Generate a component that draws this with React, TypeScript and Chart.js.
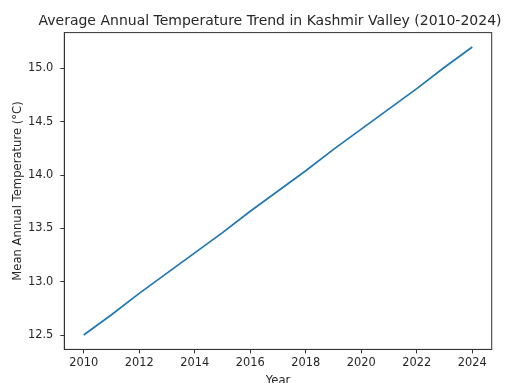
import React, { useEffect, useRef } from "react";
import { Chart, registerables } from "chart.js";

Chart.register(...registerables);

// Average annual temperature, Kashmir Valley
const years = [2010, 2011, 2012, 2013, 2014, 2015, 2016, 2017, 2018, 2019, 2020, 2021, 2022, 2023, 2024];
const meanTemps = [12.5, 12.69, 12.89, 13.08, 13.27, 13.46, 13.66, 13.85, 14.04, 14.24, 14.43, 14.62, 14.81, 15.01, 15.2];

const xTickValues = [2010, 2012, 2014, 2016, 2018, 2020, 2022, 2024];
const yTickValues = [12.5, 13.0, 13.5, 14.0, 14.5, 15.0];

const titleText = "Average Annual Temperature Trend in Kashmir Valley (2010-2024)";
const xTitle = "Year";
const yTitle = "Mean Annual Temperature (°C)";

const FONT = "'DejaVu Sans', 'Liberation Sans', sans-serif";
const INK = "#262626";

// Full frame around the plot plus title and axis labels
const framePlugin = {
  id: "frameAndLabels",
  afterDraw(chart: any) {
    const { ctx, chartArea } = chart;
    const { left, top, right, bottom } = chartArea;
    ctx.save();
    ctx.strokeStyle = "#333333";
    ctx.lineWidth = 1;
    ctx.strokeRect(left, top, right - left, bottom - top);

    ctx.fillStyle = INK;
    ctx.textAlign = "center";
    ctx.textBaseline = "middle";
    ctx.font = `14px ${FONT}`;
    ctx.fillText(titleText, 270, 21);

    ctx.font = `11.6px ${FONT}`;
    ctx.fillText(xTitle, (left + right) / 2, 381);

    ctx.translate(17.5, (top + bottom) / 2);
    ctx.rotate(-Math.PI / 2);
    ctx.fillText(yTitle, 0, 0);
    ctx.restore();
  },
};

export default function App() {
  const canvasRef = useRef<HTMLCanvasElement | null>(null);

  useEffect(() => {
    document.body.style.margin = "0";
    const canvas = canvasRef.current;
    if (!canvas) return;

    const chart = new Chart(canvas, {
      type: "line",
      data: {
        datasets: [
          {
            data: years.map((y, i) => ({ x: y, y: meanTemps[i] })),
            borderColor: "#1f77b4",
            borderWidth: 1.7,
            pointRadius: 0,
            fill: false,
            tension: 0,
          },
        ],
      },
      options: {
        animation: false,
        responsive: false,
        maintainAspectRatio: false,
        layout: { padding: { top: 32.6, right: 25.3, left: 0, bottom: 0 } },
        plugins: {
          legend: { display: false },
          title: { display: false },
          tooltip: { enabled: false },
        },
        scales: {
          x: {
            type: "linear",
            min: 2009.3,
            max: 2024.7,
            afterFit: (scale: any) => {
              scale.height = 33.6;
            },
            afterBuildTicks: (scale: any) => {
              scale.ticks = xTickValues.map((v) => ({ value: v }));
            },
            grid: {
              drawOnChartArea: false,
              drawTicks: true,
              tickLength: 4,
              color: "#333333",
              lineWidth: 1,
            },
            border: { display: true, color: "#333333", width: 1 },
            ticks: {
              color: INK,
              font: { family: FONT, size: 11.4 },
              padding: 3,
              maxRotation: 0,
              autoSkip: false,
              callback: (v: any) => String(v),
            },
          },
          y: {
            type: "linear",
            min: 12.365,
            max: 15.335,
            afterFit: (scale: any) => {
              scale.width = 64.3;
            },
            afterBuildTicks: (scale: any) => {
              scale.ticks = yTickValues.map((v) => ({ value: v }));
            },
            grid: {
              drawOnChartArea: false,
              drawTicks: true,
              tickLength: 4,
              color: "#333333",
              lineWidth: 1,
            },
            border: { display: true, color: "#333333", width: 1 },
            ticks: {
              color: INK,
              font: { family: FONT, size: 11.4 },
              padding: 7,
              autoSkip: false,
              callback: (v: any) => Number(v).toFixed(1),
            },
          },
        },
      },
      plugins: [framePlugin],
    });

    return () => chart.destroy();
  }, []);

  return (
    <div style={{ width: 517, height: 383, position: "relative", background: "#ffffff" }}>
      <canvas ref={canvasRef} width={517} height={383} style={{ display: "block" }} />
    </div>
  );
}
